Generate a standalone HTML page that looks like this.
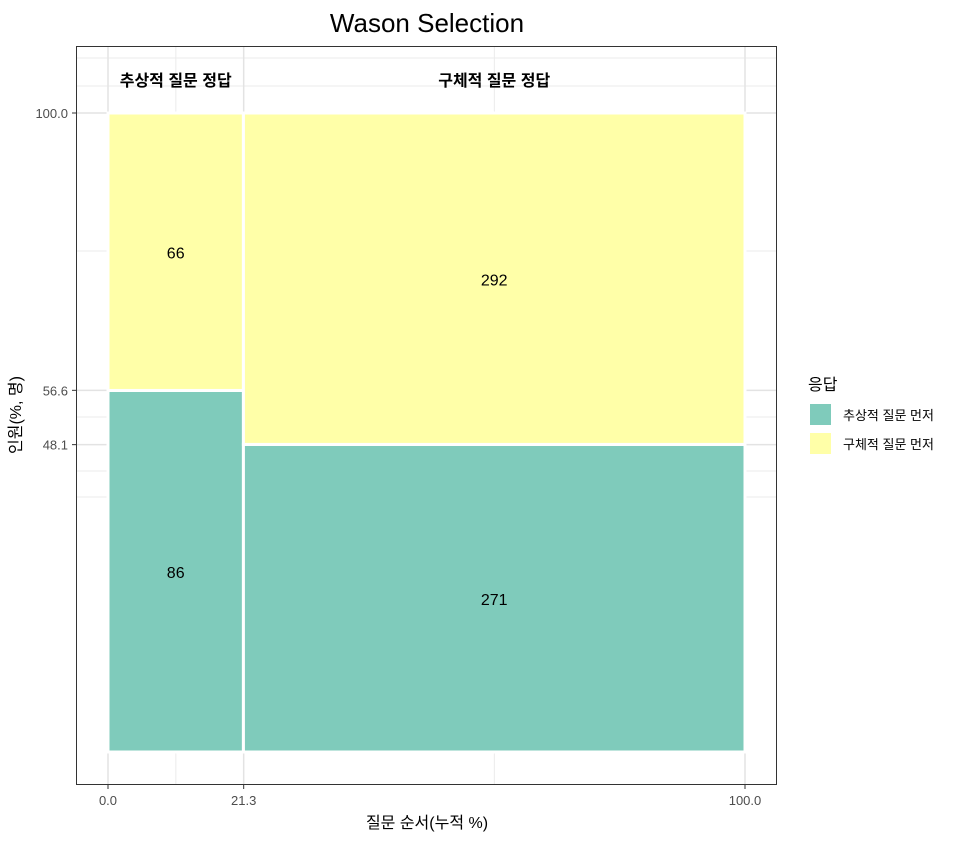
<!DOCTYPE html>
<html><head><meta charset="utf-8">
<style>
body{margin:0;background:#fff;}
svg text{font-family:"Liberation Sans","Noto Sans CJK KR",sans-serif;}
</style></head>
<body>
<svg id="chart" width="960" height="840" xmlns="http://www.w3.org/2000/svg">
<rect x="0" y="0" width="960" height="840" fill="#fff"/>
<text x="427" y="32" font-size="26" text-anchor="middle" fill="#000">Wason Selection</text>
<g id="grid"></g>
<g id="marks"></g>
<rect x="76.5" y="46.5" width="700" height="738" fill="none" stroke="#333" stroke-width="1"/>
<g id="axes"></g>
<text x="427" y="828" font-size="16" text-anchor="middle" fill="#000">질문 순서(누적 %)</text>
<text transform="translate(21,415) rotate(-90)" font-size="16" text-anchor="middle" fill="#000">인원(%, 명)</text>
<g>
<text x="808" y="390" font-size="16" fill="#000">응답</text>
<g>
<rect x="810" y="404" width="21" height="21" fill="#7fcbbb"/>
<text x="843" y="420" font-size="13" fill="#000">추상적 질문 먼저</text></g>
<g>
<rect x="810" y="433" width="21" height="21" fill="#ffffa8"/>
<text x="843" y="449" font-size="13" fill="#000">구체적 질문 먼저</text></g>
</g>
</svg>
<script>
const columns = ["추상적 질문 정답", "구체적 질문 정답"];
const abstractFirst = [86, 271];
const concreteFirst = [66, 292];

const NS = "http://www.w3.org/2000/svg";
const X0 = 108, X1 = 745, Y0 = 752, Y1 = 113;
const xs = v => X0 + (X1 - X0) * v / 100;
const ys = v => Y0 - (Y0 - Y1) * v / 100;
function mk(tag, attrs, parent){const e=document.createElementNS(NS,tag);for(const k in attrs)e.setAttribute(k,attrs[k]);parent.appendChild(e);return e;}

const totals = columns.map((c,i)=>abstractFirst[i]+concreteFirst[i]);
const grand = totals.reduce((a,b)=>a+b,0);
let cum = 0;
const xB = [0], yB = [];
const marks = document.getElementById('marks');
columns.forEach((c,i)=>{
  const w = totals[i]/grand*100;
  const xa = cum, xb = cum + w; cum = xb; xB.push(+xb.toFixed(1));
  const pA = abstractFirst[i]/totals[i]*100;
  yB.push(+pA.toFixed(1));
  const segs = [[0,pA,'#7fcbbb',abstractFirst[i],'abstract-first'],[pA,100,'#ffffa8',concreteFirst[i],'concrete-first']];
  segs.forEach(s=>{
    const r = mk('rect',{x:xs(xa),y:ys(s[1]),width:xs(xb)-xs(xa),height:ys(s[0])-ys(s[1]),fill:s[2],stroke:'#fff','stroke-width':3},marks);
    
    
    const t = mk('text',{x:(xs(xa)+xs(xb))/2,y:(ys(s[0])+ys(s[1]))/2+7,'font-size':16,'text-anchor':'middle',fill:'#000'},marks);
    t.textContent = s[3];
    
    
  });
  const h = mk('text',{x:(xs(xa)+xs(xb))/2,y:86,'font-size':16,'font-weight':'bold','text-anchor':'middle',fill:'#000'},marks);
  h.textContent = c;
  
  
});

const grid = document.getElementById('grid');
const yMajor = [...yB, 100];
const hMinor = [58, 86, 251, 417, 471, 497];
hMinor.forEach(y=>{mk('line',{x1:77,x2:776,y1:y,y2:y,stroke:'#ebebeb','stroke-width':1},grid);});
yMajor.forEach(v=>{mk('line',{x1:77,x2:776,y1:ys(v),y2:ys(v),stroke:'#e3e3e3','stroke-width':1.5},grid);});
const xMinor = [(xB[0]+xB[1])/2,(xB[1]+xB[2])/2];
xMinor.forEach(v=>{mk('line',{x1:xs(v),x2:xs(v),y1:47,y2:784,stroke:'#ebebeb','stroke-width':1},grid);});
xB.forEach(v=>{mk('line',{x1:xs(v),x2:xs(v),y1:47,y2:784,stroke:'#e3e3e3','stroke-width':1.5},grid);});

const axes = document.getElementById('axes');
xB.forEach(v=>{
  mk('line',{x1:xs(v),x2:xs(v),y1:785,y2:789,stroke:'#333'},axes);
  const t = mk('text',{x:xs(v),y:805,'font-size':13,'text-anchor':'middle',fill:'#4d4d4d'},axes);
  t.textContent = v.toFixed(1);
  
  
});
yMajor.forEach(v=>{
  mk('line',{x1:72,x2:76,y1:ys(v),y2:ys(v),stroke:'#333'},axes);
  const t = mk('text',{x:68,y:ys(v)+5,'font-size':13,'text-anchor':'end',fill:'#4d4d4d'},axes);
  t.textContent = v.toFixed(1);
  
  
});
</script>
</body></html>
